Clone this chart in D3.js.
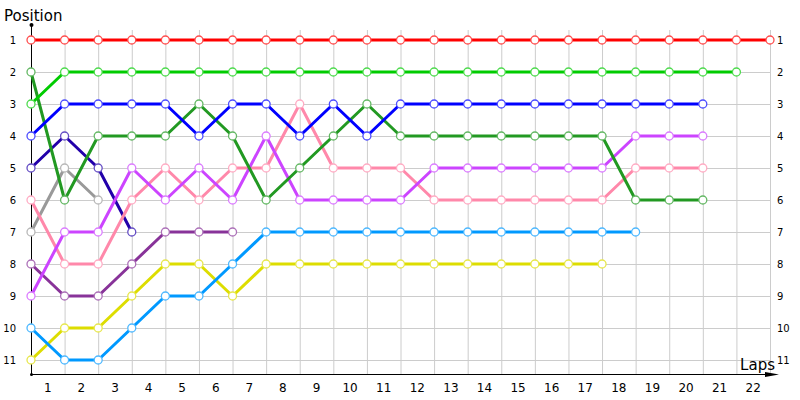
<!DOCTYPE html>
<html>
<head>
<meta charset="utf-8">
<script src="https://cdn.jsdelivr.net/npm/d3@7"></script>
<style>
  body { margin: 0; background: #fff; }
  svg { display: block; }
</style>
</head>
<body>
<script>
const laps = d3.range(1, 23)
const positions = d3.range(1, 12)

// position at each lap boundary, index 0 = start
const posRed = [1, 1, 1, 1, 1, 1, 1, 1, 1, 1, 1, 1, 1, 1, 1, 1, 1, 1, 1, 1, 1, 1, 1]
const posGreen = [3, 2, 2, 2, 2, 2, 2, 2, 2, 2, 2, 2, 2, 2, 2, 2, 2, 2, 2, 2, 2, 2]
const posBlue = [4, 3, 3, 3, 3, 4, 3, 3, 4, 3, 4, 3, 3, 3, 3, 3, 3, 3, 3, 3, 3]
const posDarkGreen = [2, 6, 4, 4, 4, 3, 4, 6, 5, 4, 3, 4, 4, 4, 4, 4, 4, 4, 6, 6, 6]
const posNavy = [5, 4, 5, 7]
const posGray = [7, 5, 6]
const posPink = [6, 8, 8, 6, 5, 6, 5, 5, 3, 5, 5, 5, 6, 6, 6, 6, 6, 6, 5, 5, 5]
const posMagenta = [9, 7, 7, 5, 6, 5, 6, 4, 6, 6, 6, 6, 5, 5, 5, 5, 5, 5, 4, 4, 4]
const posPurple = [8, 9, 9, 8, 7, 7, 7]
const posYellow = [11, 10, 10, 9, 8, 8, 9, 8, 8, 8, 8, 8, 8, 8, 8, 8, 8, 8]
const posLightBlue = [10, 11, 11, 10, 9, 9, 8, 7, 7, 7, 7, 7, 7, 7, 7, 7, 7, 7, 7]

const seriesList = [posGray, posNavy, posPurple, posYellow, posLightBlue, posPink,
  posMagenta, posDarkGreen, posBlue, posGreen, posRed]
const colorList = ['#999999', '#2200aa', '#883399', '#dddd00', '#0099ff', '#ff88aa',
  '#cc44ff', '#229922', '#0000ff', '#00cc00', '#ff0000']

const W = 800
const H = 400
const font = 'Tahoma, "DejaVu Sans", sans-serif'

const x = d3.scaleLinear().domain([0, laps.length]).range([31, 770])
const xLap = d3.scaleBand().domain(laps).range([31, 770])
const y = d3.scaleLinear().domain([1, 11]).range([40, 360])
const yBottom = 374
const yTop = 25

const svg = d3.select('body').append('svg')
  .attr('width', W)
  .attr('height', H)
  .attr('font-family', font)

// grid
svg.append('g')
  .attr('stroke', '#cccccc')
  .attr('stroke-width', 1)
  .call(g => g.selectAll('line.v')
    .data(d3.range(0, laps.length + 1)).enter()
    .append('line')
    .attr('x1', d => x(d) + 0.5)
    .attr('x2', d => x(d) + 0.5)
    .attr('y1', 30)
    .attr('y2', yBottom))
  .call(g => g.selectAll('line.h')
    .data(positions).enter()
    .append('line')
    .attr('x1', x(0))
    .attr('x2', x(laps.length))
    .attr('y1', d => y(d) + 0.5)
    .attr('y2', d => y(d) + 0.5))

// axes labels
svg.append('g')
  .attr('transform', `translate(0,${yBottom})`)
  .call(d3.axisBottom(xLap).tickSize(0).tickPadding(9))
  .call(g => g.select('.domain').remove())
  .call(g => g.selectAll('.tick text')
    .attr('font-family', font)
    .attr('font-size', 12)
    .attr('fill', '#000'))

svg.append('g')
  .attr('transform', `translate(${x(0)},0)`)
  .call(d3.axisLeft(y).tickValues(positions).tickSize(0).tickPadding(15))
  .call(g => g.select('.domain').remove())
  .call(g => g.selectAll('.tick text')
    .attr('font-family', font)
    .attr('font-size', 10)
    .attr('fill', '#000'))

svg.append('g')
  .attr('transform', `translate(${x(laps.length)},0)`)
  .call(d3.axisRight(y).tickValues(positions).tickSize(0).tickPadding(7))
  .call(g => g.select('.domain').remove())
  .call(g => g.selectAll('.tick text')
    .attr('font-family', font)
    .attr('font-size', 10)
    .attr('fill', '#000'))

// axis lines
svg.append('line')
  .attr('x1', x(0) + 0.5).attr('x2', x(0) + 0.5)
  .attr('y1', yBottom).attr('y2', yTop)
  .attr('stroke', '#000')
svg.append('circle')
  .attr('cx', x(0) + 0.5).attr('cy', yTop).attr('r', 2)
svg.append('circle')
  .attr('cx', x(0) + 0.5).attr('cy', yBottom + 0.5).attr('r', 1.5)
svg.append('line')
  .attr('x1', x(0)).attr('x2', 772)
  .attr('y1', yBottom + 0.5).attr('y2', yBottom + 0.5)
  .attr('stroke', '#000')
svg.append('path')
  .attr('d', `M765,${yBottom - 2}L779,${yBottom + 0.5}L765,${yBottom + 3}Z`)
  .attr('fill', '#000')

svg.append('text')
  .text('Position')
  .attr('x', 4)
  .attr('y', 21)
  .attr('font-size', 15)
  .attr('fill', '#000')

svg.append('text')
  .text('Laps')
  .attr('x', 775)
  .attr('y', 370)
  .attr('text-anchor', 'end')
  .attr('font-size', 15)
  .attr('fill', '#000')

// lines
const line = d3.line()
  .x((d, i) => x(i))
  .y(d => y(d))

svg.append('g')
  .attr('class', 'lines')
  .selectAll('path')
  .data(seriesList).enter()
  .append('path')
  .attr('d', d => line(d))
  .attr('fill', 'none')
  .attr('stroke', (d, i) => colorList[i])
  .attr('stroke-width', 3)
  .attr('stroke-linejoin', 'round')

// markers
svg.append('g')
  .attr('class', 'dots')
  .selectAll('g')
  .data(seriesList).enter()
  .append('g')
  .attr('stroke', (d, i) => d3.interpolateRgb(colorList[i], '#ffffff')(0.3))
  .attr('fill', '#ffffff')
  .attr('stroke-width', 1.3)
  .selectAll('circle')
  .data(d => d).enter()
  .append('circle')
  .attr('cx', (d, i) => x(i))
  .attr('cy', d => y(d))
  .attr('r', 4)
</script>
</body>
</html>
